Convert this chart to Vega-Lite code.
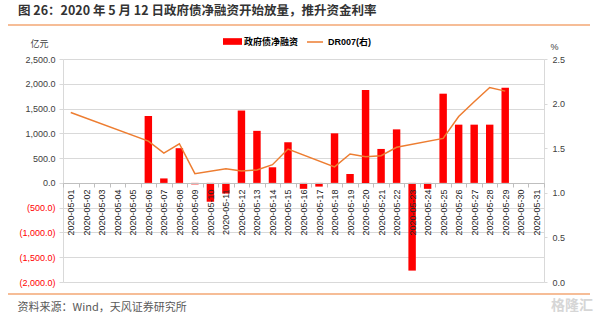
{
  "$schema": "https://vega.github.io/schema/vega-lite/v6.json",
  "width": 481,
  "height": 223,
  "autosize": "none",
  "padding": {"left": 63, "top": 59, "right": 57, "bottom": 40},
  "background": "white",
  "config": {"view": {"stroke": null}, "font": "Liberation Sans, Noto Sans CJK SC, sans-serif"},
  "title": {
    "text": "图 26：2020 年 5 月 12 日政府债净融资开始放量，推升资金利率",
    "anchor": "start",
    "frame": "group",
    "font": "Noto Sans CJK SC",
    "fontSize": 12.5,
    "fontWeight": "bold",
    "color": "#333333",
    "dx": -45,
    "offset": 6.5
  },
  "data": {
    "values": [
      {"date": "2020-05-01", "net": null, "dr": 1.90},
      {"date": "2020-05-02", "net": null, "dr": null},
      {"date": "2020-05-03", "net": null, "dr": null},
      {"date": "2020-05-04", "net": null, "dr": null},
      {"date": "2020-05-05", "net": null, "dr": null},
      {"date": "2020-05-06", "net": 1350, "dr": 1.58},
      {"date": "2020-05-07", "net": 90, "dr": 1.445},
      {"date": "2020-05-08", "net": 700, "dr": 1.55},
      {"date": "2020-05-09", "net": -30, "dr": 1.215},
      {"date": "2020-05-10", "net": -380, "dr": null},
      {"date": "2020-05-11", "net": -215, "dr": 1.27},
      {"date": "2020-05-12", "net": 1460, "dr": 1.245},
      {"date": "2020-05-13", "net": 1050, "dr": 1.255},
      {"date": "2020-05-14", "net": 315, "dr": 1.315},
      {"date": "2020-05-15", "net": 820, "dr": 1.49},
      {"date": "2020-05-16", "net": -120, "dr": null},
      {"date": "2020-05-17", "net": -75, "dr": null},
      {"date": "2020-05-18", "net": 1000, "dr": 1.29},
      {"date": "2020-05-19", "net": 180, "dr": 1.435},
      {"date": "2020-05-20", "net": 1875, "dr": 1.405},
      {"date": "2020-05-21", "net": 685, "dr": 1.415},
      {"date": "2020-05-22", "net": 1080, "dr": 1.51},
      {"date": "2020-05-23", "net": -1770, "dr": null},
      {"date": "2020-05-24", "net": -120, "dr": null},
      {"date": "2020-05-25", "net": 1800, "dr": 1.61},
      {"date": "2020-05-26", "net": 1175, "dr": 1.855},
      {"date": "2020-05-27", "net": 1175, "dr": 2.02},
      {"date": "2020-05-28", "net": 1175, "dr": 2.18},
      {"date": "2020-05-29", "net": 1920, "dr": 2.14},
      {"date": "2020-05-30", "net": null, "dr": null},
      {"date": "2020-05-31", "net": null, "dr": null}
    ]
  },
  "layer": [
    {
      "mark": {"type": "bar", "width": {"band": 0.48}},
      "encoding": {
        "x": {
          "field": "date",
          "type": "ordinal",
          "scale": {
            "paddingInner": 0,
            "paddingOuter": 0,
            "domain": ["2020-05-01", "2020-05-02", "2020-05-03", "2020-05-04", "2020-05-05", "2020-05-06", "2020-05-07", "2020-05-08", "2020-05-09", "2020-05-10", "2020-05-11", "2020-05-12", "2020-05-13", "2020-05-14", "2020-05-15", "2020-05-16", "2020-05-17", "2020-05-18", "2020-05-19", "2020-05-20", "2020-05-21", "2020-05-22", "2020-05-23", "2020-05-24", "2020-05-25", "2020-05-26", "2020-05-27", "2020-05-28", "2020-05-29", "2020-05-30", "2020-05-31"]
          },
          "axis": {
            "offset": -99,
            "labelAngle": -90,
            "labelFontSize": 9,
            "labelColor": "#262626",
            "labelPadding": 2,
            "tickBand": "extent",
            "tickSize": 4,
            "tickColor": "#BFBFBF",
            "domainColor": "#BFBFBF",
            "grid": false,
            "zindex": 1,
            "title": "资料来源：Wind，天风证券研究所",
            "titleX": -46,
            "titleY": 124,
            "titleAlign": "left",
            "titleBaseline": "middle",
            "titleFont": "Noto Sans CJK SC",
            "titleFontSize": 11,
            "titleFontWeight": "normal",
            "titleColor": "#595959"
          }
        },
        "y": {
          "field": "net",
          "type": "quantitative",
          "scale": {"domain": [-2000, 2500], "nice": false, "zero": false},
          "axis": {
            "values": [-2000, -1500, -1000, -500, 0, 500, 1000, 1500, 2000, 2500],
            "labelExpr": "datum.value < 0 ? '(' + format(-datum.value, ',.1f') + ')' : format(datum.value, ',.1f')",
            "labelColor": {"condition": {"test": "datum.value < 0", "value": "#FF0000"}, "value": "#404040"},
            "labelFontSize": 9,
            "grid": true,
            "gridColor": "#D9D9D9",
            "domainColor": "#D9D9D9",
            "tickColor": "#D9D9D9",
            "tickSize": 4,
            "labelPadding": 4,
            "title": "亿元",
            "titleAngle": 0,
            "titleX": -24,
            "titleY": -16,
            "titleAlign": "center",
            "titleBaseline": "middle",
            "titleFont": "Noto Sans CJK SC",
            "titleFontSize": 9,
            "titleFontWeight": "normal",
            "titleColor": "#404040"
          }
        },
        "fill": {
          "datum": "政府债净融资",
          "type": "nominal",
          "scale": {"range": ["#FF0000"]},
          "legend": {
            "orient": "none",
            "legendX": 160,
            "legendY": -27,
            "title": null,
            "padding": 0,
            "symbolType": "M-1,-0.35L1,-0.35L1,0.35L-1,0.35Z",
            "symbolSize": 361,
            "symbolStrokeWidth": 0,
            "labelFont": "Noto Sans CJK SC",
            "labelFontSize": 9,
            "labelFontWeight": "bold",
            "labelColor": "#000000",
            "labelOffset": 2
          }
        }
      }
    },
    {
      "mark": {"type": "line", "strokeWidth": 1.5, "invalid": "filter"},
      "encoding": {
        "x": {"field": "date", "type": "ordinal"},
        "y": {
          "field": "dr",
          "type": "quantitative",
          "scale": {"domain": [0, 2.5], "nice": false},
          "axis": {
            "orient": "right",
            "values": [0, 0.5, 1, 1.5, 2, 2.5],
            "format": ".1f",
            "labelFontSize": 9,
            "labelColor": "#404040",
            "grid": false,
            "domainColor": "#D9D9D9",
            "tickColor": "#D9D9D9",
            "tickSize": 3,
            "labelPadding": 5,
            "title": "%",
            "titleAngle": 0,
            "titleX": 10,
            "titleY": -13,
            "titleAlign": "center",
            "titleBaseline": "middle",
            "titleFontSize": 9,
            "titleFontWeight": "normal",
            "titleColor": "#404040"
          }
        },
        "stroke": {
          "datum": "DR007(右)",
          "type": "nominal",
          "scale": {"range": ["#ED7D31"]},
          "legend": {
            "orient": "none",
            "legendX": 243,
            "legendY": -26,
            "title": null,
            "padding": 0,
            "symbolType": "stroke",
            "symbolSize": 256,
            "symbolStrokeWidth": 1.5,
            "labelFont": "Liberation Sans, Noto Sans CJK SC",
            "labelFontSize": 9,
            "labelFontWeight": "bold",
            "labelColor": "#000000",
            "labelOffset": 4
          }
        }
      }
    },
    {
      "data": {"values": [{"pos": "top"}]},
      "mark": {"type": "rect", "color": "#ED7D31"},
      "encoding": {"x": {"value": -55}, "x2": {"value": 527}, "y": {"value": -34.6}, "y2": {"value": -33.4}}
    },
    {
      "data": {"values": [{"pos": "bottom"}]},
      "mark": {"type": "rect", "color": "#ED7D31"},
      "encoding": {"x": {"value": -55}, "x2": {"value": 527}, "y": {"value": 234.4}, "y2": {"value": 235.6}}
    },
    {
      "data": {"values": [{"mark": "格隆汇"}]},
      "mark": {"type": "text", "align": "right", "baseline": "middle", "font": "Noto Sans CJK SC", "fontSize": 14, "fontWeight": "bold", "color": "#D6D6D6"},
      "encoding": {"text": {"field": "mark"}, "x": {"value": 530}, "y": {"value": 247}}
    }
  ],
  "resolve": {"scale": {"y": "independent"}}
}
